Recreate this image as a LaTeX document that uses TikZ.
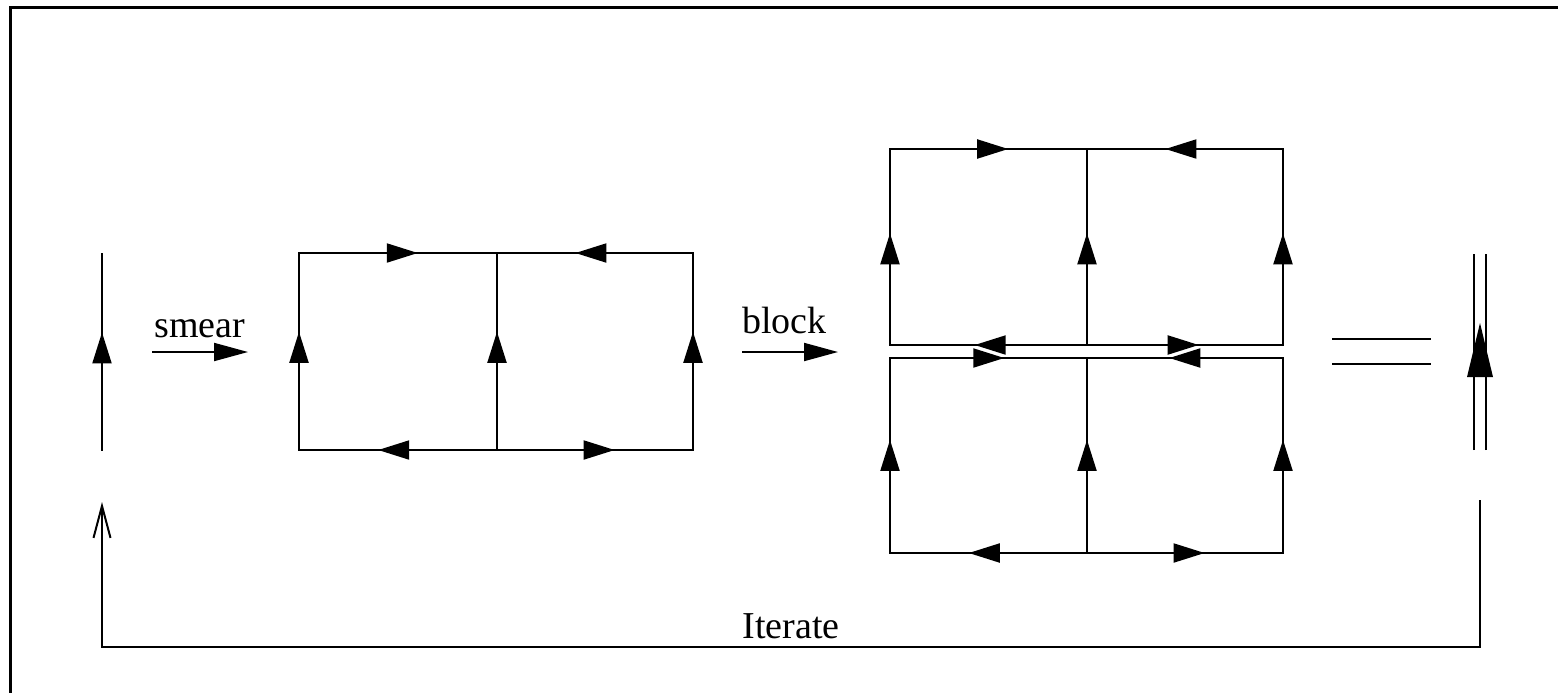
\documentclass[tikz,border=0pt]{standalone}
\usepackage{fontspec}
\setmainfont{Liberation Serif}
\usetikzlibrary{arrows.meta,decorations.markings}
\begin{document}
\begin{tikzpicture}[x=0.5pt,y=-0.5pt,
  ln/.style={line width=1pt, line cap=rect, line join=miter},
  fa/.style={postaction={decorate},decoration={markings,mark=at position #1 with {\arrow{Triangle[length=15.5pt,width=9.5pt]}}}},
  fa/.default=0.6,
  opar/.style={-{Triangle[length=17pt,width=9pt]}},
  lab/.style={font=\fontsize{19}{22}\selectfont, inner sep=0pt}]
\useasboundingbox (0,0) rectangle (1558,692);
% frame
\coordinate (f0) at (10.5,700);
\coordinate (f1) at (10.5,7.5);
\coordinate (f2) at (1570,7.5);
\draw[line width=1.5pt] (f0) -- (f1) -- (f2);

% single link
\coordinate (s0) at (102,450);
\coordinate (s1) at (102,254);
\draw[ln,fa] (s0) -- (s1);

% smear arrow
\coordinate (sm0) at (152,352);
\coordinate (sm1) at (248,352);
\draw[ln,line cap=butt,opar] (sm0) -- (sm1);
\node[lab,anchor=base west] (smear) at (154,337) {smear};

% figure A
\coordinate (atl) at (299,253);
\coordinate (atm) at (497,253);
\coordinate (atr) at (693,253);
\coordinate (abl) at (299,450);
\coordinate (abm) at (497,450);
\coordinate (abr) at (693,450);
\draw[ln,fa] (abl) -- (atl);
\draw[ln,fa] (abm) -- (atm);
\draw[ln,fa] (abr) -- (atr);
\draw[ln,fa] (atl) -- (atm);
\draw[ln,fa] (atr) -- (atm);
\draw[ln,fa] (abm) -- (abl);
\draw[ln,fa] (abm) -- (abr);

% block arrow
\coordinate (bk0) at (742,352);
\coordinate (bk1) at (838,352);
\draw[ln,line cap=butt,opar] (bk0) -- (bk1);
\node[lab,anchor=base west] (block) at (742,333) {block};

% figure B upper
\coordinate (utl) at (890,149);
\coordinate (utm) at (1087,149);
\coordinate (utr) at (1283,149);
\coordinate (ubl) at (890,345);
\coordinate (ubm) at (1087,345);
\coordinate (ubr) at (1283,345);
\draw[ln,fa=0.57] (ubl) -- (utl);
\draw[ln,fa=0.57] (ubm) -- (utm);
\draw[ln,fa=0.57] (ubr) -- (utr);
\draw[ln,fa] (utl) -- (utm);
\draw[ln,fa] (utr) -- (utm);
\draw[ln,fa=0.57] (ubm) -- (ubl);
\draw[ln,fa=0.57] (ubm) -- (ubr);
% figure B lower
\coordinate (ltl) at (890,358);
\coordinate (ltm) at (1087,358);
\coordinate (ltr) at (1283,358);
\coordinate (lbl) at (890,553);
\coordinate (lbm) at (1087,553);
\coordinate (lbr) at (1283,553);
\draw[ln,fa=0.58] (lbl) -- (ltl);
\draw[ln,fa=0.58] (lbm) -- (ltm);
\draw[ln,fa=0.58] (lbr) -- (ltr);
\draw[ln,fa=0.58] (ltl) -- (ltm);
\draw[ln,fa=0.58] (ltr) -- (ltm);
\draw[ln,fa] (lbm) -- (lbl);
\draw[ln,fa] (lbm) -- (lbr);

% equals sign
\coordinate (e1a) at (1332,339);
\coordinate (e1b) at (1431,339);
\coordinate (e2a) at (1332,364);
\coordinate (e2b) at (1431,364);
\draw[ln,line cap=butt] (e1a) -- (e1b);
\draw[ln,line cap=butt] (e2a) -- (e2b);

% double link
\coordinate (d1a) at (1474,450);
\coordinate (d1b) at (1474,254);
\coordinate (d2a) at (1486,450);
\coordinate (d2b) at (1486,254);
\draw[ln,line cap=butt] (d1a) -- (d1b);
\draw[ln,line cap=butt] (d2a) -- (d2b);
\coordinate (dt) at (1480,323);
\coordinate (dl) at (1467,377);
\coordinate (dr) at (1493,377);
\fill (dt) -- (dl) -- (dr) -- cycle;

% iterate loop
\coordinate (it0) at (1480,500);
\coordinate (itr) at (1480,647);
\coordinate (itl) at (102,647);
\coordinate (it1) at (102,502);
\draw[ln,line cap=butt,-{Straight Barb[length=16pt,width=8.5pt]}] (it0) -- (itr) -- (itl) -- (it1);
\node[lab,anchor=base] (iterate) at (791,638) {Iterate};
\end{tikzpicture}
\end{document}
